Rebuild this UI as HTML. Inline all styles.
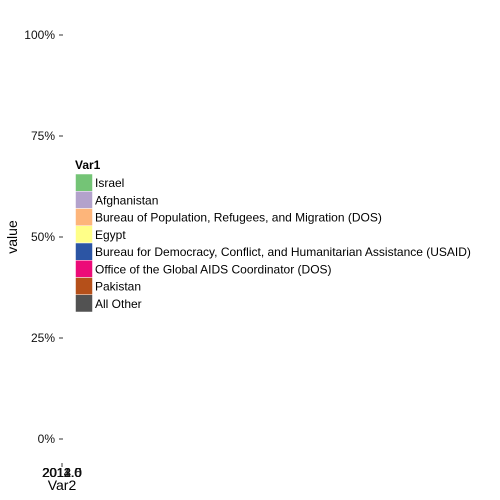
<!DOCTYPE html>
<html><head><meta charset="utf-8"><style>
html,body{margin:0;padding:0;background:#fff;}
svg{display:block;font-family:"Liberation Sans",Arial,sans-serif;}
</style></head><body>
<svg id="chart" width="500" height="500" viewBox="0 0 500 500">
<g id="yaxis"></g>
<g id="xaxis"></g>
<g id="marks"></g>
<text x="17" y="237" transform="rotate(-90 17 237)" text-anchor="middle" font-size="14" fill="#000">value</text>
<text x="62" y="490" text-anchor="middle" font-size="14" fill="#000">Var2</text>
<g id="legend">
<text x="75" y="169" font-size="12" font-weight="bold" fill="#000">Var1</text>
</g>
</svg>
<script>
const categories = ["Israel","Afghanistan","Bureau of Population, Refugees, and Migration (DOS)","Egypt","Bureau for Democracy, Conflict, and Humanitarian Assistance (USAID)","Office of the Global AIDS Coordinator (DOS)","Pakistan","All Other"];
const colors = ["#74c476","#b3a2cc","#fdb57a","#ffff88","#2c55a4","#ec0b78","#b5501a","#525252"];
const yTicks = [0,0.25,0.5,0.75,1];
const yTickLabels = ["0%","25%","50%","75%","100%"];
const xTickLabels = ["2011.0","2012.0","2012.5","2013.0","2014.0"];
const seriesValues = []; // empty in reference

const NS="http://www.w3.org/2000/svg";
function y(v){return 439 - v*(439-35);}
function mk(t,a,p){const e=document.createElementNS(NS,t);for(const k in a)e.setAttribute(k,a[k]);p.appendChild(e);return e;}

const ya=document.getElementById('yaxis');
yTicks.forEach((v,i)=>{
  const l=mk('line',{x1:59,x2:63,y1:y(v),y2:y(v),stroke:'#333','stroke-width':1},ya);
  
  
  const t=mk('text',{x:55,y:y(v)+4,'text-anchor':'end','font-size':12,fill:'#111'},ya);
  t.textContent=yTickLabels[i];
  
  
});
const xa=document.getElementById('xaxis');
const xt=mk('line',{x1:62,x2:62,y1:463,y2:467,stroke:'#333','stroke-width':1},xa);


xTickLabels.forEach(s=>{
  const t=mk('text',{x:62,y:477,'text-anchor':'middle','font-size':13,fill:'#111'},xa);
  t.textContent=s;
  
  
});
const mg=document.getElementById('marks');
seriesValues.forEach((v,i)=>{
  const r=mk('rect',{x:55,y:y(v),width:14,height:439-y(v),fill:colors[i%colors.length]},mg);
  
  
});
const lg=document.getElementById('legend');
categories.forEach((c,i)=>{
  const yy=174+i*17.25;
  const r=mk('rect',{x:75.5,y:yy,width:17,height:17.25,fill:colors[i],stroke:'#fff','stroke-width':0.5},lg);
  
  
  const t=mk('text',{x:95,y:yy+13,'font-size':12,fill:'#000'},lg);
  t.textContent=c;
  
  
});
</script>
</body></html>
